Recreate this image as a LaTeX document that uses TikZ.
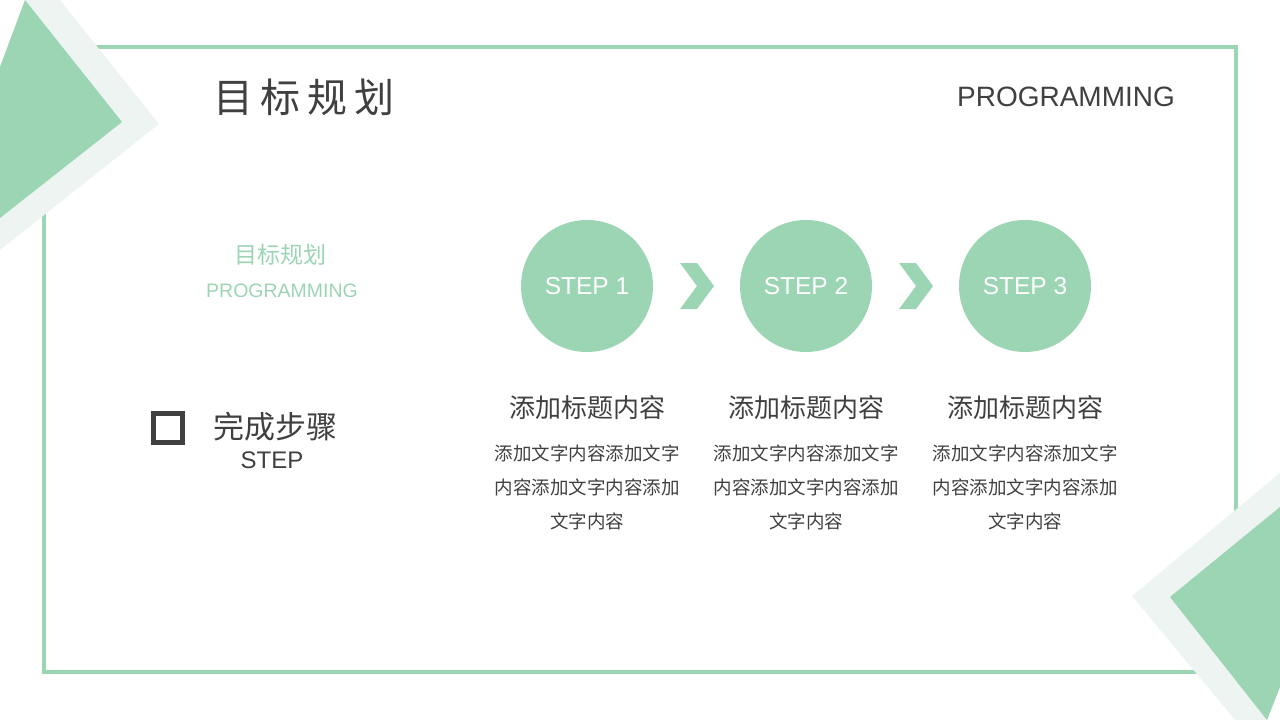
\documentclass[tikz,border=0pt]{standalone}
\usepackage{fontspec}
\setmainfont{Liberation Sans}
\newfontfamily\cjk{Noto Sans CJK SC}
\usepackage{tikz}
\definecolor{mintGreen}{RGB}{156,213,179}
\definecolor{mintPale}{RGB}{238,244,241}
\definecolor{textDark}{RGB}{64,64,64}

\begin{document}
\begin{tikzpicture}[x=1pt, y=-1pt, text=textDark]
		\useasboundingbox (0,0) rectangle (1280,720);
		\clip (0,0) rectangle (1280,720);
		
		% Frame
		\draw [mintGreen, line width=3.5pt] (44,47) rectangle (1236,672);
		
		% Corner triangles
		\fill [mintPale] (25,0) -- (60,0) -- (159,124) -- (0,250) -- (0,67) -- cycle;
		\fill [mintGreen] (25,0) -- (122,122) -- (0,218) -- (0,67) -- cycle;
		\fill [mintPale] (1280,473) -- (1132,596) -- (1235,720) -- (1267,720) -- (1280,687) -- cycle;
		\fill [mintGreen] (1280,507) -- (1170,597) -- (1267,720) -- (1280,687) -- cycle;
		
		% Header
		\node (title) at (304,97) [font=\cjk\fontsize{40}{44}\selectfont\addfontfeature{LetterSpace=18}] {目标规划};
		\node (titleEn) at (1066,97) [font=\fontsize{28}{32}\selectfont] {PROGRAMMING};
		
		% Left labels
		\node (subTitle) at (280,255) [text=mintGreen, font=\cjk\fontsize{23}{26}\selectfont] {目标规划};
		\node (subEn) at (282,291) [text=mintGreen, font=\fontsize{19.5}{22}\selectfont] {PROGRAMMING};
		\node (box) at (168,428) [draw=textDark, line width=4.5pt, minimum size=29pt, inner sep=0pt] {};
		\node (done) at (275,427) [font=\cjk\fontsize{31}{36}\selectfont] {完成步骤};
		\node (doneEn) at (272,460) [font=\fontsize{24}{28}\selectfont] {STEP};
		
		% Step circles
		\begin{scope}[every node/.style={circle, fill=mintGreen, text=white, minimum size=132pt, inner sep=0pt, font=\fontsize{24.5}{28}\selectfont}]
			\node (step1) at (587,286) {STEP 1};
			\node (step2) at (806,286) {STEP 2};
			\node (step3) at (1025,286) {STEP 3};
		\end{scope}
		
		% Chevrons
		\fill [mintGreen] (680,263) -- (697,263) -- (714,286) -- (697,309) -- (680,309) -- (697,286) -- cycle;
		\fill [mintGreen] (899,263) -- (916,263) -- (933,286) -- (916,309) -- (899,309) -- (916,286) -- cycle;
		
		% Step titles
		\begin{scope}[every node/.style={font=\cjk\fontsize{26}{30}\selectfont}]
			\node (head1) at (587,408) {添加标题内容};
			\node (head2) at (806,408) {添加标题内容};
			\node (head3) at (1025,408) {添加标题内容};
		\end{scope}
		
		% Step texts
		\begin{scope}[every node/.style={align=center, font=\cjk\fontsize{18.5}{34}\selectfont}]
			\node (text1) at (587,487) {添加文字内容添加文字\\内容添加文字内容添加\\文字内容};
			\node (text2) at (806,487) {添加文字内容添加文字\\内容添加文字内容添加\\文字内容};
			\node (text3) at (1025,487) {添加文字内容添加文字\\内容添加文字内容添加\\文字内容};
		\end{scope}
		
	\end{tikzpicture}
\end{document}
